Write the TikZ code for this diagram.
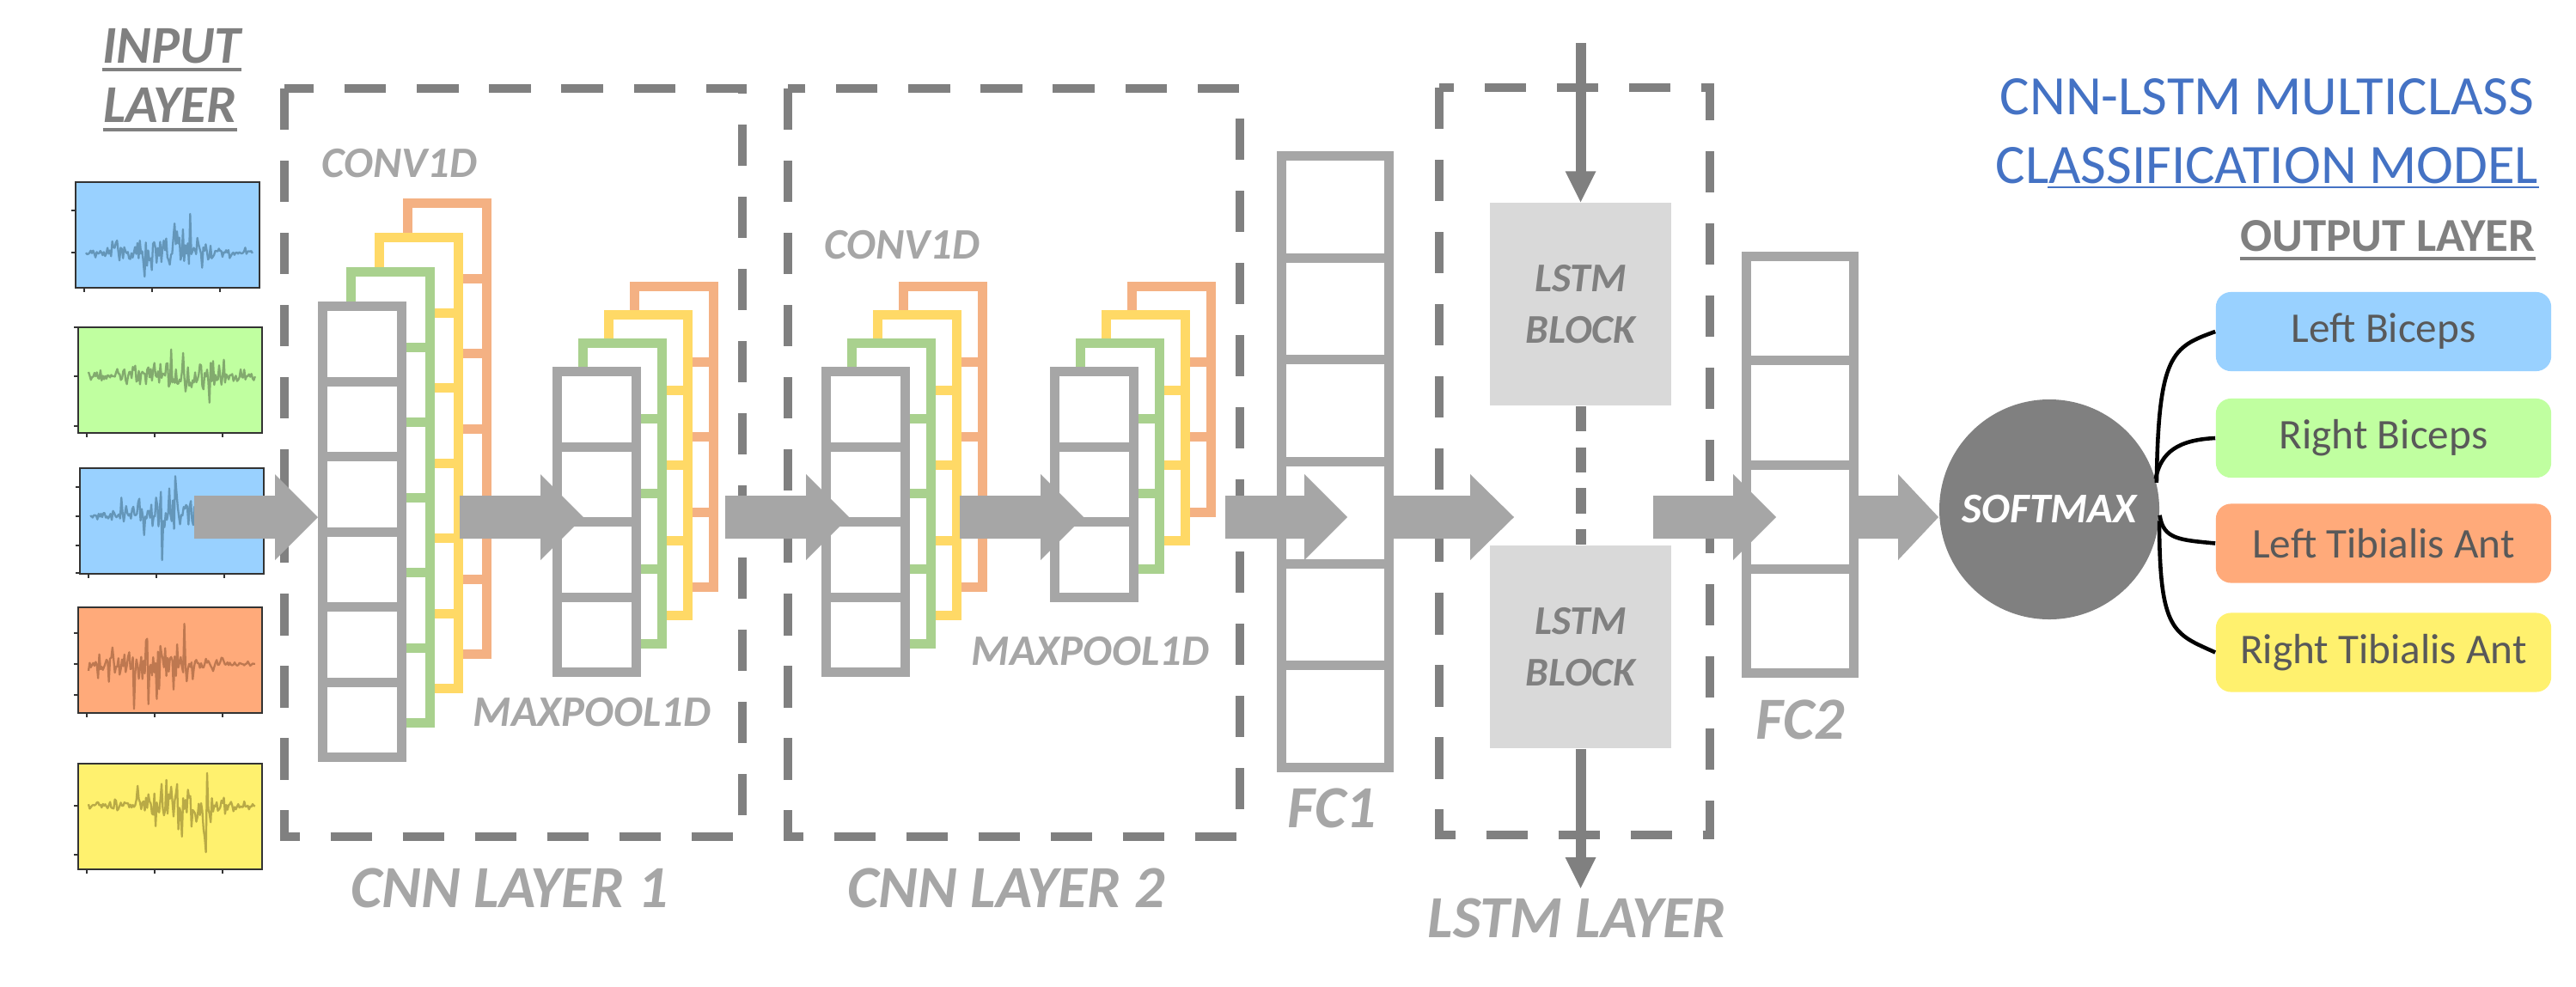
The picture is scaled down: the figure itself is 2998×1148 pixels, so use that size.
\documentclass[tikz,border=0pt]{standalone}
\usepackage{fontspec}
\setmainfont{Carlito}
\usetikzlibrary{calc}
\definecolor{dashgray}{HTML}{808080}
\definecolor{lgray}{HTML}{A6A6A6}
\definecolor{fmgr}{HTML}{A9D18E}
\definecolor{fmye}{HTML}{FFD966}
\definecolor{fmor}{HTML}{F4B183}
\definecolor{lstmfill}{HTML}{D9D9D9}
\definecolor{tblue}{HTML}{4472C4}
\definecolor{outtext}{HTML}{595959}
\definecolor{inblue}{RGB}{153,209,255}
\definecolor{ingreen}{RGB}{192,255,160}
\definecolor{inorange}{RGB}{255,170,122}
\definecolor{inyellow}{RGB}{255,241,110}
\definecolor{sgblue}{RGB}{100,150,185}
\definecolor{sggreen}{RGB}{130,170,110}
\definecolor{sgorange}{RGB}{190,120,80}
\definecolor{sgyellow}{RGB}{185,170,70}
\definecolor{axisc}{HTML}{333333}
\tikzset{
  dashbox/.style={draw=dashgray, line width=3pt, dash pattern=on 13.7pt off 10.2pt},
  fmline/.style={line width=3.13pt},
  layerlbl/.style={text=lgray, font=\fontsize{19.8pt}{22pt}\selectfont\bfseries\itshape, inner sep=0, anchor=base},
  oplbl/.style={text=lgray, font=\fontsize{14.4pt}{16pt}\selectfont\bfseries\itshape, inner sep=0, anchor=base},
  lstmblock/.style={fill=lstmfill, minimum width=60.03pt, minimum height=67.14pt, inner sep=0, align=center,
     text=dashgray, font=\fontsize{13.5pt}{17pt}\selectfont\bfseries\itshape},
  outbox/.style={rounded corners=5pt, minimum width=111pt, minimum height=26.2pt, inner sep=0,
     text=outtext, font=\fontsize{14pt}{16pt}\selectfont},
  conn/.style={draw=black, line width=1.3pt},
}
% feature map: outer left x, outer top y, cells, colour
\newcommand\fmap[4]{%
  \pgfmathsetmacro\fmx{#1+5.5}%
  \pgfmathsetmacro\fmy{#2+5.5}%
  \pgfmathsetmacro\fmh{#3*87.5}%
  \draw[fmline,draw=#4,fill=white] (\fmx,\fmy) rectangle ++(92,\fmh);
  \pgfmathtruncatemacro\fmn{#3-1}%
  \foreach \k in {1,...,\fmn}{\draw[fmline,draw=#4] (\fmx,{\fmy+\k*87.5}) -- ++(92,0);}
}
\newcommand\fmstack[5]{%
  \fmap{#1+3*(#4)}{#2+3*(#5)}{#3}{fmor}
  \fmap{#1+2*(#4)}{#2+2*(#5)}{#3}{fmye}
  \fmap{#1+(#4)}{#2+(#5)}{#3}{fmgr}
  \fmap{#1}{#2}{#3}{lgray}
}
% big block arrow: start x, tip x, y, head length
\newcommand\barrow[4]{%
  \fill[lgray] (#1,{#3-25}) -- ({#2-#4},{#3-25}) -- ({#2-#4},{#3-50}) -- (#2,#3)
     -- ({#2-#4},{#3+50}) -- ({#2-#4},{#3+25}) -- (#1,{#3+25}) -- cycle;
}
% signal box
\newcommand\sigbox[9]{%
  \fill[#3] (#1,#2) rectangle ++(214,123);
  \begin{scope}
    \clip (#1,#2) rectangle ++(214,123);
    \pgfmathsetseed{#7}
    \draw[#4, line width=0.65pt, line join=round] plot[domain=0:1, samples=140, variable=\t]
      ({#1+12+\t*194}, {#5 + #6*(0.08+0.92*exp(-1*((\t-#8)/0.3)*((\t-#8)/0.3)))*rand*(0.2+1.5*rnd*rnd*rnd)});
  \end{scope}
  \draw[axisc, line width=0.4pt] (#1,#2) rectangle ++(214,123);
  \foreach \tx in {10,89,168}{\draw[axisc, line width=0.4pt] ({#1+\tx},{#2+123}) -- ++(0,5);}
  \foreach \ty in {#9}{\draw[axisc, line width=0.4pt] (#1,\ty) -- ++(-5,0);}
}
\begin{document}
\begin{tikzpicture}[x=0.01cm,y=-0.01cm]
\useasboundingbox (0,0) rectangle (2998,1148);
\fill[white] (0,0) rectangle (2998,1148);

% ---------- input layer ----------
\node[text=dashgray, font=\fontsize{17.6pt}{20pt}\selectfont\bfseries\itshape, inner sep=0, anchor=base] (inp1) at (200,73) {INPUT};
\node[text=dashgray, font=\fontsize{17.6pt}{20pt}\selectfont\bfseries\itshape, inner sep=0, anchor=base] (inp2) at (198,142) {LAYER};
\draw[dashgray, line width=1pt] ([yshift=-2.3pt]inp1.base west) -- ([yshift=-2.3pt]inp1.base east);
\draw[dashgray, line width=1pt] ([yshift=-2.5pt]inp2.base west) -- ([yshift=-2.5pt]inp2.base east);

\sigbox{88}{212}{inblue}{sgblue}{294}{62}{11}{0.45}{245,294}
\sigbox{91}{381}{ingreen}{sggreen}{438}{62}{23}{0.5}{381,438,496}
\sigbox{93}{545}{inblue}{sgblue}{601}{62}{37}{0.5}{567,601,635,667}
\sigbox{91}{707}{inorange}{sgorange}{773}{62}{41}{0.35}{737,773,809}
\sigbox{91}{889}{inyellow}{sgyellow}{938}{58}{53}{0.55}{938,995}

% ---------- dashed layer boxes ----------
\draw[dashbox] (331,103) rectangle (864,974);
\draw[dashbox] (917,103) rectangle (1443,974);
\draw[dashbox] (1675,102) rectangle (1990,972);

% ---------- CNN layers ----------
\fmstack{370}{351}{6}{33}{-40}
\fmstack{643}{427}{4}{30}{-33}
\fmstack{956}{427}{4}{30}{-33}
\fmstack{1222}{427}{3}{30}{-33}

\node[oplbl] (c1) at (465,206) {CONV1D};
\node[oplbl] (m1) at (689,845) {MAXPOOL1D};
\node[oplbl] (c2) at (1050,301) {CONV1D};
\node[oplbl] (m2) at (1269,774) {MAXPOOL1D};
\node[layerlbl] (l1) at (593,1056) {CNN LAYER 1};
\node[layerlbl] (l2) at (1171,1056) {CNN LAYER 2};

% ---------- FC1 ----------
\draw[fmline,draw=lgray,fill=white] (1491.5,181.5) rectangle (1616.5,893.5);
\foreach \k in {1,...,5}{\draw[fmline,draw=lgray] (1491.5,{181.5+\k*118.67}) -- (1616.5,{181.5+\k*118.67});}
\node[layerlbl] (fc1) at (1550,963) {FC1};

% ---------- LSTM ----------
\node[lstmblock] (lb1) at (1839.5,354) {LSTM\\BLOCK};
\node[lstmblock] (lb2) at (1839.5,753) {LSTM\\BLOCK};
\coordinate (lin) at (1839.5,50);
\coordinate (lout) at (1839.5,1034);
\draw[dashgray, line width=3.4pt] (lin) -- (1839.5,205);
\fill[dashgray] (lb1.north) -- ++(-18,-36) -- ++(36,0) -- cycle;
\draw[dashgray, line width=3.4pt, dash pattern=on 8.3pt off 5.3pt] (lb1.south) -- (lb2.north);
\draw[dashgray, line width=3.4pt] (lb2.south) -- (1839.5,1004);
\fill[dashgray] (lout) -- ++(-18,-36) -- ++(36,0) -- cycle;
\node[layerlbl] (ll) at (1835,1091) {LSTM LAYER};

% ---------- FC2 ----------
\draw[fmline,draw=lgray,fill=white] (2032.5,298.5) rectangle (2157.5,783.5);
\foreach \k in {1,...,3}{\draw[fmline,draw=lgray] (2032.5,{298.5+\k*121.25}) -- (2157.5,{298.5+\k*121.25});}
\node[layerlbl] (fc2) at (2095,860) {FC2};

% ---------- block arrows ----------
\barrow{226}{370}{602}{50}
\barrow{535}{679}{602}{50}
\barrow{844}{988}{602}{50}
\barrow{1117}{1261}{602}{50}
\barrow{1426}{1568}{602}{50}
\barrow{1622}{1762}{602}{51}
\barrow{1924}{2067}{602}{50}
\barrow{2163}{2256}{602}{47}

% ---------- softmax & outputs ----------
\node[circle, fill=dashgray, minimum size=72.8pt, inner sep=0, text=white,
      font=\fontsize{14pt}{16pt}\selectfont\bfseries\itshape] (sm) at (2385,593) {SOFTMAX};

\node[outbox, fill=inblue] (ob1) at (2774,386) {Left Biceps};
\node[outbox, fill=ingreen] (ob2) at (2774,510) {Right Biceps};
\node[outbox, fill=inorange] (ob3) at (2774,632.5) {Left Tibialis Ant};
\node[outbox, fill=inyellow] (ob4) at (2774,759.5) {Right Tibialis Ant};

\draw[conn] (sm.14) .. controls +(2,-150) and +(-50,18) .. (ob1.west);
\draw[conn] (sm.16) .. controls +(6,-32) and +(-42,2) .. (ob2.west);
\draw[conn] (sm.-3) .. controls +(4,28) and +(-42,-4) .. (ob3.west);
\draw[conn] (sm.-6) .. controls +(0,130) and +(-48,-22) .. (ob4.west);

% ---------- titles ----------
\node[text=tblue, font=\fontsize{18.4pt}{22pt}\selectfont, inner sep=0, anchor=base east] (t1) at (2950,133) {CNN-LSTM MULTICLASS};
\node[text=tblue, font=\fontsize{18.4pt}{22pt}\selectfont, inner sep=0, anchor=base east] (t2) at (2955,213) {CLASSIFICATION MODEL};
\draw[tblue, line width=0.5pt] (2383,218) -- (t2.base east |- 0,218);
\node[text=dashgray, font=\fontsize{15.6pt}{18pt}\selectfont\bfseries, inner sep=0, anchor=base east] (ol) at (2951,292) {OUTPUT LAYER};
\draw[dashgray, line width=1.1pt] ([yshift=-2.6pt]ol.base west) -- ([yshift=-2.6pt]ol.base east);
\end{tikzpicture}
\end{document}
